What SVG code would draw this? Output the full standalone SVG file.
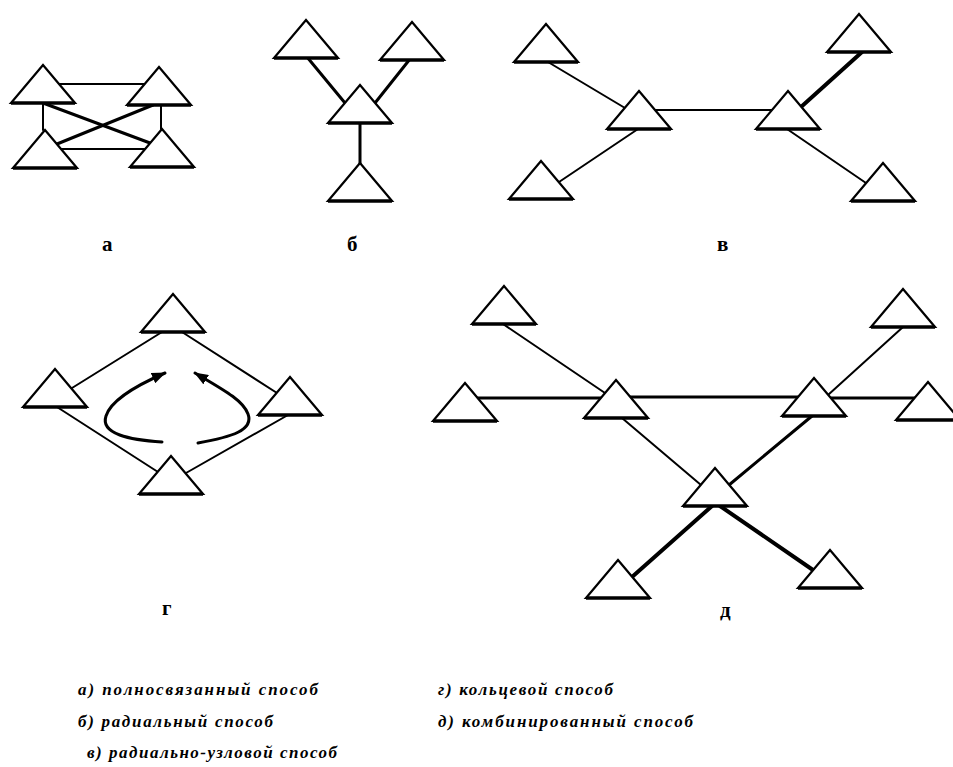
<svg xmlns="http://www.w3.org/2000/svg" xmlns:xlink="http://www.w3.org/1999/xlink" width="953" height="767" viewBox="0 0 953 767">
<style>
.tri-side{fill:#fff;stroke:#000;stroke-width:2.2;stroke-linejoin:miter}
.tri-base{stroke:#000;stroke-width:3.4}
.c{stroke:#000;stroke-width:2;fill:none;stroke-linecap:round}
.c3{stroke:#000;stroke-width:3;fill:none;stroke-linecap:round}
.c4{stroke:#000;stroke-width:4;fill:none;stroke-linecap:round}
.lbl{font-family:"Liberation Serif","DejaVu Serif",serif;font-weight:bold;font-size:21px;fill:#000}
.leg{font-family:"Liberation Serif","DejaVu Serif",serif;font-weight:bold;font-style:italic;font-size:17px;fill:#000}
</style>
<defs>
<g id="tri">
<polygon class="tri-side" points="0,38 32,0 64,38"/>
<line class="tri-base" x1="0" y1="38" x2="64" y2="38"/>
</g>
<marker id="ah" viewBox="0 0 14 11" refX="13" refY="5.5" markerWidth="14" markerHeight="11" markerUnits="userSpaceOnUse" orient="auto">
<path d="M0,0 L14,5.5 L0,11 Z" fill="#000"/>
</marker>
</defs>
<rect width="953" height="767" fill="#fff"/>

<g id="connectors">
<!-- a -->
<line class="c" x1="59" y1="84" x2="145" y2="84"/>
<line class="c" x1="61" y1="149" x2="145" y2="149"/>
<line class="c" x1="43" y1="103" x2="43" y2="130"/>
<line class="c" x1="161" y1="105" x2="161" y2="129"/>
<line class="c3" x1="43" y1="103" x2="150" y2="143"/>
<line class="c3" x1="153" y1="105" x2="57" y2="144"/>
<!-- b -->
<line class="c3" x1="307" y1="57" x2="345" y2="103"/>
<line class="c3" x1="410" y1="59" x2="375" y2="103"/>
<line class="c3" x1="360" y1="123" x2="360" y2="164"/>
<!-- v -->
<line class="c" x1="548" y1="62" x2="625" y2="108"/>
<line class="c" x1="655" y1="110" x2="772" y2="110"/>
<line class="c4" x1="862" y1="52" x2="801" y2="107"/>
<line class="c" x1="638" y1="129" x2="559" y2="182"/>
<line class="c" x1="787" y1="129" x2="866" y2="183"/>
<!-- g -->
<line class="c" x1="162" y1="332" x2="72" y2="388"/>
<line class="c" x1="182" y1="332" x2="277" y2="393"/>
<line class="c" x1="57" y1="407" x2="158" y2="472"/>
<line class="c" x1="288" y1="415" x2="186" y2="473"/>
<path class="c3" d="M162,442 C130,440 100,434 106,416 C111,400 135,386 165,373" marker-end="url(#ah)"/>
<path class="c3" d="M198,443 C232,437 254,430 248,414 C243,400 222,389 195,373" marker-end="url(#ah)"/>
<!-- d -->
<line class="c" x1="503" y1="324" x2="605" y2="393"/>
<line class="c" x1="903" y1="327" x2="828" y2="395"/>
<line class="c3" x1="478" y1="398" x2="601" y2="398"/>
<line class="c3" x1="630" y1="397" x2="798" y2="397"/>
<line class="c3" x1="831" y1="398" x2="915" y2="398"/>
<line class="c" x1="622" y1="418" x2="701" y2="485"/>
<line class="c3" x1="812" y1="416" x2="729" y2="485"/>
<line class="c4" x1="712" y1="506" x2="632" y2="577"/>
<line class="c4" x1="720" y1="506" x2="813" y2="570"/>
</g>

<g id="a-tl"><use xlink:href="#tri" x="11" y="65"/></g>
<g id="a-tr"><use xlink:href="#tri" x="127" y="67"/></g>
<g id="a-bl"><use xlink:href="#tri" x="13" y="130"/></g>
<g id="a-br"><use xlink:href="#tri" x="130" y="129"/></g>

<g id="b-tl"><use xlink:href="#tri" x="274" y="20"/></g>
<g id="b-tr"><use xlink:href="#tri" x="380" y="22"/></g>
<g id="b-mid"><use xlink:href="#tri" x="328" y="85"/></g>
<g id="b-bot"><use xlink:href="#tri" x="328" y="163"/></g>

<g id="v-tl"><use xlink:href="#tri" x="514" y="24"/></g>
<g id="v-ml"><use xlink:href="#tri" x="607" y="91"/></g>
<g id="v-mr"><use xlink:href="#tri" x="756" y="91"/></g>
<g id="v-tr"><use xlink:href="#tri" x="827" y="14"/></g>
<g id="v-bl"><use xlink:href="#tri" x="509" y="161"/></g>
<g id="v-br"><use xlink:href="#tri" x="851" y="163"/></g>

<g id="g-top"><use xlink:href="#tri" x="141" y="294"/></g>
<g id="g-left"><use xlink:href="#tri" x="23" y="369"/></g>
<g id="g-right"><use xlink:href="#tri" x="258" y="377"/></g>
<g id="g-bot"><use xlink:href="#tri" x="139" y="456"/></g>

<g id="d-tl"><use xlink:href="#tri" x="472" y="286"/></g>
<g id="d-tr"><use xlink:href="#tri" x="871" y="289"/></g>
<g id="d-l"><use xlink:href="#tri" x="433" y="383"/></g>
<g id="d-ml"><use xlink:href="#tri" x="584" y="380"/></g>
<g id="d-mr"><use xlink:href="#tri" x="782" y="378"/></g>
<g id="d-r"><use xlink:href="#tri" x="896" y="382"/></g>
<g id="d-c"><use xlink:href="#tri" x="683" y="468"/></g>
<g id="d-bl"><use xlink:href="#tri" x="586" y="560"/></g>
<g id="d-br"><use xlink:href="#tri" x="798" y="550"/></g>

<g id="labels">
<text class="lbl" x="102" y="251">а</text>
<text class="lbl" x="347" y="251">б</text>
<text class="lbl" x="717" y="251">в</text>
<text class="lbl" x="162" y="615">г</text>
<text class="lbl" x="720" y="617">д</text>
</g>

<g id="legend">
<text class="leg" x="78" y="695" textLength="240" lengthAdjust="spacing">а) полносвязанный способ</text>
<text class="leg" x="78" y="727" textLength="195" lengthAdjust="spacing">б) радиальный способ</text>
<text class="leg" x="87" y="758" textLength="250" lengthAdjust="spacing">в) радиально-узловой способ</text>
<text class="leg" x="438" y="695" textLength="175" lengthAdjust="spacing">г) кольцевой способ</text>
<text class="leg" x="438" y="727" textLength="255" lengthAdjust="spacing">д) комбинированный способ</text>
</g>
</svg>
